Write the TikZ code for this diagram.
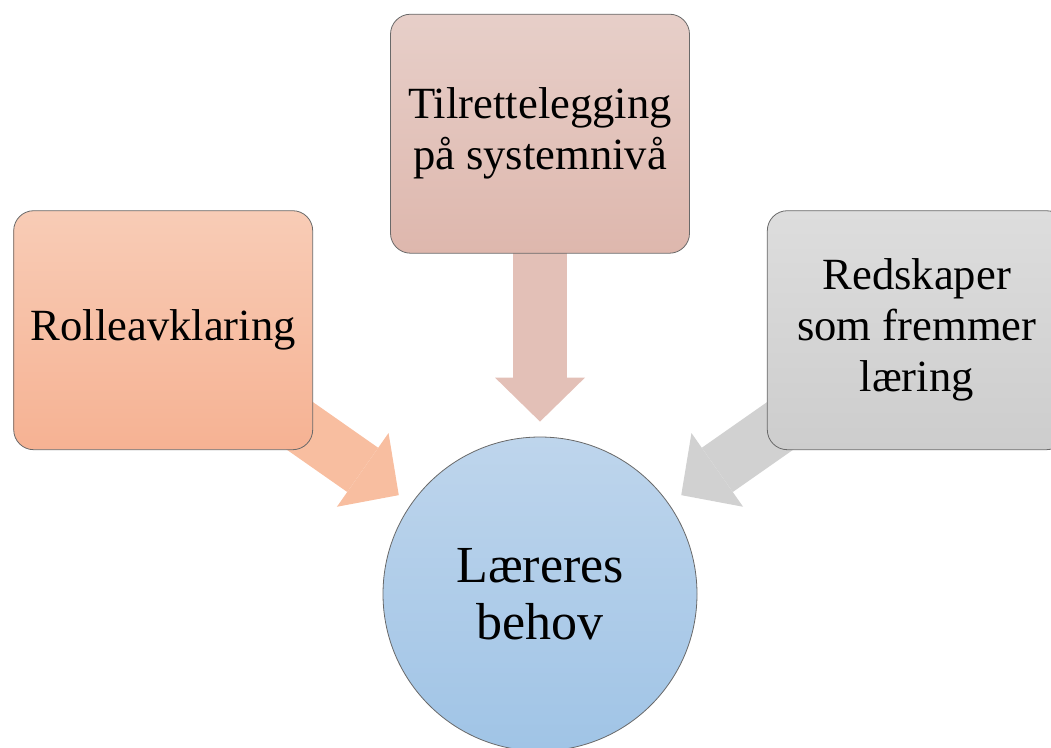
\documentclass[tikz,border=0pt]{standalone}
\usepackage{fontspec}
\setmainfont{Liberation Serif}
\definecolor{edgegray}{RGB}{105, 105, 105}
\definecolor{roseTop}{RGB}{231, 207, 201}
\definecolor{roseBot}{RGB}{222, 183, 173}
\definecolor{roseArrow}{RGB}{227, 192, 183}
\definecolor{peachTop}{RGB}{248, 204, 182}
\definecolor{peachBot}{RGB}{246, 178, 147}
\definecolor{peachArrow}{RGB}{248, 190, 160}
\definecolor{greyTop}{RGB}{221, 221, 221}
\definecolor{greyBot}{RGB}{205, 205, 205}
\definecolor{greyArrow}{RGB}{209, 209, 209}
\definecolor{skyTop}{RGB}{190, 213, 236}
\definecolor{skyBot}{RGB}{160, 196, 230}
\usetikzlibrary{arrows.meta, positioning, backgrounds}
\tikzset{
	box/.style={rectangle, rounded corners=20pt, draw=edgegray, line width=0.8pt, align=center, minimum width=299pt, minimum height=239pt, inner sep=0pt, font=\fontsize{44.6}{51}\selectfont},
	sysbox/.style={box, top color=roseTop, bottom color=roseBot},
	rolebox/.style={box, top color=peachTop, bottom color=peachBot},
	toolbox/.style={box, top color=greyTop, bottom color=greyBot},
	need/.style={circle, draw=edgegray, line width=0.8pt, minimum size=314pt, inner sep=0pt, align=center, top color=skyTop, bottom color=skyBot, font=\fontsize{52}{57}\selectfont},
	bigarrow/.style={line width=54pt, -{Triangle[width=90pt, length=44pt, line width=0pt]}, shorten >=15pt},
}
\begin{document}
\begin{tikzpicture}[x=1pt, y=-1pt, node distance=183pt and 77pt]
		\useasboundingbox (0,0) rectangle (1051,747);
		\clip (0,0) rectangle (1051,747);
		\node[need] (learn) at (540,594) {Læreres\\behov};
		\node[sysbox, above=of learn] (sys) {Tilrettelegging\\på systemnivå};
		\node[rolebox, left=of sys, yshift=-196.5pt] (role) {Rolleavklaring};
		\node[toolbox, right=of sys, yshift=-196.5pt] (tools) {Redskaper\\som fremmer\\læring};
		\begin{scope}[on background layer]
			\draw[bigarrow, draw=roseArrow, fill=roseArrow] (sys.center) -- (learn);
			\draw[bigarrow, draw=peachArrow, fill=peachArrow] (role.center) -- (learn);
			\draw[bigarrow, draw=greyArrow, fill=greyArrow] (tools.center) -- (learn);
		\end{scope}
	\end{tikzpicture}
\end{document}
